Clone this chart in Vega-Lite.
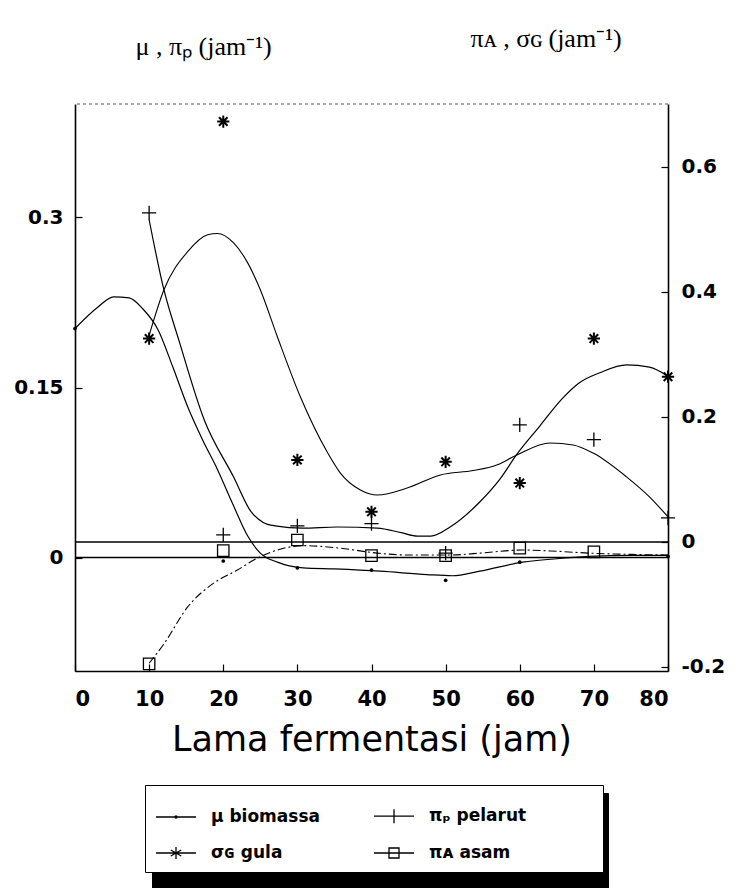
{
  "$schema": "https://vega.github.io/schema/vega-lite/v6.json",
  "width": 593,
  "height": 567,
  "autosize": {"type": "none"},
  "padding": {"left": 75, "top": 104, "right": 71, "bottom": 217},
  "background": "white",
  "config": {
    "view": {"stroke": null},
    "axis": {
      "grid": false,
      "domainColor": "black",
      "domainWidth": 1.6,
      "tickColor": "black",
      "tickWidth": 1.2,
      "tickSize": -7,
      "labelColor": "black",
      "titleColor": "black",
      "labelFont": "DejaVu Sans",
      "labelFontWeight": "bold",
      "labelFontSize": 20
    }
  },
  "datasets": {
    "curves": [
      {"s": "μ  biomassa", "x": 0, "v": 0.202},
      {"s": "μ  biomassa", "x": 3.1, "v": 0.221},
      {"s": "μ  biomassa", "x": 5.2, "v": 0.23},
      {"s": "μ  biomassa", "x": 7.3, "v": 0.229},
      {"s": "μ  biomassa", "x": 9.2, "v": 0.219},
      {"s": "μ  biomassa", "x": 11.2, "v": 0.201},
      {"s": "μ  biomassa", "x": 13.2, "v": 0.168},
      {"s": "μ  biomassa", "x": 15.2, "v": 0.133},
      {"s": "μ  biomassa", "x": 17.2, "v": 0.104},
      {"s": "μ  biomassa", "x": 19.2, "v": 0.078},
      {"s": "μ  biomassa", "x": 21.3, "v": 0.047},
      {"s": "μ  biomassa", "x": 23.3, "v": 0.019},
      {"s": "μ  biomassa", "x": 25, "v": 0.004},
      {"s": "μ  biomassa", "x": 27.3, "v": -0.004},
      {"s": "μ  biomassa", "x": 30.8, "v": -0.009},
      {"s": "μ  biomassa", "x": 35, "v": -0.01},
      {"s": "μ  biomassa", "x": 41.2, "v": -0.012},
      {"s": "μ  biomassa", "x": 47.5, "v": -0.015},
      {"s": "μ  biomassa", "x": 50.9, "v": -0.016},
      {"s": "μ  biomassa", "x": 54.6, "v": -0.012},
      {"s": "μ  biomassa", "x": 60.4, "v": -0.004},
      {"s": "μ  biomassa", "x": 65, "v": -0.001},
      {"s": "μ  biomassa", "x": 69.4, "v": 0.001},
      {"s": "μ  biomassa", "x": 75, "v": 0.002},
      {"s": "μ  biomassa", "x": 80, "v": 0.002},
      {"s": "πₚ pelarut", "x": 10, "v": 0.298},
      {"s": "πₚ pelarut", "x": 12, "v": 0.236},
      {"s": "πₚ pelarut", "x": 14, "v": 0.192},
      {"s": "πₚ pelarut", "x": 17.4, "v": 0.122},
      {"s": "πₚ pelarut", "x": 21.4, "v": 0.071},
      {"s": "πₚ pelarut", "x": 23.7, "v": 0.041},
      {"s": "πₚ pelarut", "x": 25.4, "v": 0.031},
      {"s": "πₚ pelarut", "x": 27, "v": 0.028},
      {"s": "πₚ pelarut", "x": 30.7, "v": 0.026},
      {"s": "πₚ pelarut", "x": 35.4, "v": 0.027},
      {"s": "πₚ pelarut", "x": 40.8, "v": 0.026},
      {"s": "πₚ pelarut", "x": 44, "v": 0.022},
      {"s": "πₚ pelarut", "x": 46.2, "v": 0.019},
      {"s": "πₚ pelarut", "x": 48, "v": 0.019},
      {"s": "πₚ pelarut", "x": 50.6, "v": 0.027},
      {"s": "πₚ pelarut", "x": 54.6, "v": 0.049},
      {"s": "πₚ pelarut", "x": 57.3, "v": 0.069},
      {"s": "πₚ pelarut", "x": 59.6, "v": 0.091},
      {"s": "πₚ pelarut", "x": 62.7, "v": 0.116},
      {"s": "πₚ pelarut", "x": 65.7, "v": 0.14},
      {"s": "πₚ pelarut", "x": 68, "v": 0.154},
      {"s": "πₚ pelarut", "x": 70.8, "v": 0.163},
      {"s": "πₚ pelarut", "x": 74.4, "v": 0.17},
      {"s": "πₚ pelarut", "x": 77.5, "v": 0.168},
      {"s": "πₚ pelarut", "x": 80, "v": 0.16},
      {"s": "σɢ gula", "x": 10, "v": 0.33},
      {"s": "σɢ gula", "x": 12, "v": 0.403},
      {"s": "σɢ gula", "x": 15.2, "v": 0.464},
      {"s": "σɢ gula", "x": 17.9, "v": 0.491},
      {"s": "σɢ gula", "x": 19.2, "v": 0.493},
      {"s": "σɢ gula", "x": 21.4, "v": 0.478},
      {"s": "σɢ gula", "x": 23.3, "v": 0.446},
      {"s": "σɢ gula", "x": 25, "v": 0.403},
      {"s": "σɢ gula", "x": 27.3, "v": 0.328},
      {"s": "σɢ gula", "x": 30.4, "v": 0.232},
      {"s": "σɢ gula", "x": 34.1, "v": 0.142},
      {"s": "σɢ gula", "x": 35.8, "v": 0.11},
      {"s": "σɢ gula", "x": 38.5, "v": 0.083},
      {"s": "σɢ gula", "x": 40.8, "v": 0.075},
      {"s": "σɢ gula", "x": 44.8, "v": 0.086},
      {"s": "σɢ gula", "x": 49.3, "v": 0.107},
      {"s": "σɢ gula", "x": 53.7, "v": 0.114},
      {"s": "σɢ gula", "x": 56.9, "v": 0.123},
      {"s": "σɢ gula", "x": 59.6, "v": 0.139},
      {"s": "σɢ gula", "x": 64.1, "v": 0.158},
      {"s": "σɢ gula", "x": 67.2, "v": 0.155},
      {"s": "σɢ gula", "x": 69.9, "v": 0.142},
      {"s": "σɢ gula", "x": 74.4, "v": 0.104},
      {"s": "σɢ gula", "x": 77.5, "v": 0.072},
      {"s": "σɢ gula", "x": 80, "v": 0.04},
      {"s": "πᴀ asam", "x": 10, "v": -0.194},
      {"s": "πᴀ asam", "x": 12, "v": -0.163},
      {"s": "πᴀ asam", "x": 15.2, "v": -0.104},
      {"s": "πᴀ asam", "x": 18.7, "v": -0.066},
      {"s": "πᴀ asam", "x": 21.9, "v": -0.045},
      {"s": "πᴀ asam", "x": 24.6, "v": -0.026},
      {"s": "πᴀ asam", "x": 27.3, "v": -0.013},
      {"s": "πᴀ asam", "x": 30.8, "v": -0.006},
      {"s": "πᴀ asam", "x": 35.8, "v": -0.01},
      {"s": "πᴀ asam", "x": 40.8, "v": -0.018},
      {"s": "πᴀ asam", "x": 45, "v": -0.021},
      {"s": "πᴀ asam", "x": 50.7, "v": -0.021},
      {"s": "πᴀ asam", "x": 54.6, "v": -0.018},
      {"s": "πᴀ asam", "x": 60.4, "v": -0.013},
      {"s": "πᴀ asam", "x": 65, "v": -0.015},
      {"s": "πᴀ asam", "x": 69.4, "v": -0.018},
      {"s": "πᴀ asam", "x": 75, "v": -0.02},
      {"s": "πᴀ asam", "x": 80, "v": -0.021}
    ],
    "pts": [
      {"s": "μ  biomassa", "x": 0, "v": 0.202},
      {"s": "μ  biomassa", "x": 20, "v": -0.003},
      {"s": "μ  biomassa", "x": 30, "v": -0.009},
      {"s": "μ  biomassa", "x": 40, "v": -0.011},
      {"s": "μ  biomassa", "x": 50, "v": -0.02},
      {"s": "μ  biomassa", "x": 60, "v": -0.004},
      {"s": "μ  biomassa", "x": 80, "v": 0.001},
      {"s": "πₚ pelarut", "x": 10, "v": 0.304},
      {"s": "πₚ pelarut", "x": 20, "v": 0.02},
      {"s": "πₚ pelarut", "x": 30, "v": 0.028},
      {"s": "πₚ pelarut", "x": 40, "v": 0.03},
      {"s": "πₚ pelarut", "x": 50, "v": 0.004},
      {"s": "πₚ pelarut", "x": 60, "v": 0.117},
      {"s": "πₚ pelarut", "x": 70, "v": 0.104},
      {"s": "πₚ pelarut", "x": 80, "v": 0.035},
      {"s": "σɢ gula", "x": 10, "v": 0.325},
      {"s": "σɢ gula", "x": 20, "v": 0.672},
      {"s": "σɢ gula", "x": 30, "v": 0.131},
      {"s": "σɢ gula", "x": 40, "v": 0.048},
      {"s": "σɢ gula", "x": 50, "v": 0.128},
      {"s": "σɢ gula", "x": 60, "v": 0.094},
      {"s": "σɢ gula", "x": 70, "v": 0.325},
      {"s": "σɢ gula", "x": 80, "v": 0.264},
      {"s": "πᴀ asam", "x": 10, "v": -0.195},
      {"s": "πᴀ asam", "x": 20, "v": -0.014},
      {"s": "πᴀ asam", "x": 30, "v": 0.003},
      {"s": "πᴀ asam", "x": 40, "v": -0.022},
      {"s": "πᴀ asam", "x": 50, "v": -0.022},
      {"s": "πᴀ asam", "x": 60, "v": -0.01},
      {"s": "πᴀ asam", "x": 70, "v": -0.016}
    ]
  },
  "layer": [
    {
      "layer": [
        {
          "data": {"name": "curves"},
          "transform": [{"filter": {"field": "s", "oneOf": ["μ  biomassa", "πₚ pelarut"]}}],
          "mark": {"type": "line", "interpolate": "monotone", "color": "black", "strokeWidth": 1.2},
          "encoding": {
            "x": {
              "field": "x", "type": "quantitative",
              "scale": {"domain": [0, 80], "nice": false},
              "axis": {
                "values": [0, 10, 20, 30, 40, 50, 60, 70, 80],
                "labelPadding": 24,
                "labelFontSize": 21,
                "title": "Lama fermentasi (jam)",
                "titleFont": "DejaVu Sans",
                "titleFontSize": 35,
                "titleFontWeight": "normal",
                "titleBaseline": "top",
                "titleY": 51
              }
            },
            "y": {
              "field": "v", "type": "quantitative",
              "scale": {"domain": [-0.1, 0.4], "nice": false, "zero": false},
              "axis": {
                "orient": "left",
                "values": [0, 0.15, 0.3],
                "labelExpr": "datum.value + ''",
                "labelPadding": 19,
                "title": "μ ,  πₚ (jam⁻¹)",
                "titleAngle": 0,
                "titleX": 60,
                "titleY": -50,
                "titleAlign": "left",
                "titleBaseline": "alphabetic",
                "titleFont": "Liberation Serif",
                "titleFontSize": 26,
                "titleFontWeight": "normal"
              }
            },
            "detail": {"field": "s"}
          }
        },
        {
          "data": {"values": [{"v": 0}]},
          "mark": {"type": "rule", "color": "black", "strokeWidth": 1.5},
          "encoding": {"y": {"field": "v", "type": "quantitative"}}
        },
        {
          "data": {"values": [{"v": 0.4}]},
          "mark": {"type": "rule", "color": "#555", "strokeWidth": 1, "strokeDash": [3, 3]},
          "encoding": {"y": {"field": "v", "type": "quantitative"}}
        },
        {
          "data": {"name": "pts"},
          "transform": [{"filter": {"field": "s", "equal": "μ  biomassa"}}],
          "mark": {"type": "point", "shape": "circle", "filled": true, "color": "black", "size": 14, "opacity": 1},
          "encoding": {
            "x": {"field": "x", "type": "quantitative"},
            "y": {"field": "v", "type": "quantitative"}
          }
        },
        {
          "data": {"name": "pts"},
          "transform": [{"filter": {"field": "s", "equal": "πₚ pelarut"}}],
          "mark": {"type": "point", "shape": "M-1,0H1M0,-1V1", "filled": false, "color": "black", "size": 200, "strokeWidth": 1.3, "opacity": 1},
          "encoding": {
            "x": {"field": "x", "type": "quantitative"},
            "y": {"field": "v", "type": "quantitative"}
          }
        },
        {
          "data": {"name": "pts"},
          "mark": {"type": "point", "filled": false, "size": 1600, "opacity": 0},
          "encoding": {
            "x": {"field": "x", "type": "quantitative"},
            "y": {"field": "v", "type": "quantitative"},
            "color": {
              "field": "s", "type": "nominal",
              "scale": {
                "domain": ["μ  biomassa ", "σɢ gula ", "πₚ pelarut ", "πᴀ asam "],
                "range": ["black", "black", "black", "black"]
              },
              "legend": {
                "title": null,
                "orient": "none",
                "legendX": 77,
                "legendY": 689,
                "columns": 2,
                "padding": 10,
                "rowPadding": -9,
                "columnPadding": 322,
                "strokeColor": "black",
                "fillColor": "black",
                "symbolType": "square",
                "symbolSize": 1600,
                "symbolStrokeColor": "black",
                "symbolFillColor": "black",
                "symbolOpacity": 1,
                "labelFontSize": 17,
                "labelOffset": 14,
                "labelExpr": "''"
              }
            }
          }
        },
        {
          "data": {"name": "pts"},
          "mark": {"type": "point", "filled": false, "color": "black", "size": 1600, "opacity": 0},
          "encoding": {
            "x": {"field": "x", "type": "quantitative"},
            "y": {"field": "v", "type": "quantitative"},
            "shape": {
              "field": "s", "type": "nominal",
              "scale": {
                "domain": ["μ  biomassa", "σɢ gula", "πₚ pelarut", "πᴀ asam"],
                "range": [
                  "M-1,0H1M-0.05,0A0.05,0.05,0,1,1,0.05,0A0.05,0.05,0,1,1,-0.05,0",
                  "M-1,0H1M0,-0.3V0.3M-0.26,-0.15L0.26,0.15M-0.26,0.15L0.26,-0.15",
                  "M-1,0H1M0,-0.35V0.35",
                  "M-1,0H-0.25M0.25,0H1M-0.25,-0.25H0.25V0.25H-0.25ZM-0.25,0H0.25"
                ]
              },
              "legend": {
                "title": null,
                "orient": "none",
                "legendX": 70,
                "legendY": 681,
                "columns": 2,
                "padding": 10,
                "rowPadding": 6,
                "columnPadding": 45,
                "strokeColor": "black",
                "fillColor": "white",
                "symbolSize": 1600,
                "symbolStrokeWidth": 1.3,
                "symbolStrokeColor": "black",
                "symbolFillColor": "transparent",
                "symbolOpacity": 1,
                "labelFont": "DejaVu Sans",
                "labelFontWeight": "bold",
                "labelFontSize": 17,
                "labelColor": "black",
                "labelOffset": 14,
                "labelLimit": 300,
                "labelExpr": "indexof(datum.label, 'π') == 0 ? datum.label + '\u2800\u2800\u2800\u2800\u2800' : datum.label"
              }
            }
          }
        }
      ]
    },
    {
      "layer": [
        {
          "data": {"name": "curves"},
          "transform": [{"filter": {"field": "s", "equal": "σɢ gula"}}],
          "mark": {"type": "line", "interpolate": "monotone", "color": "black", "strokeWidth": 1.1},
          "encoding": {
            "x": {"field": "x", "type": "quantitative"},
            "y": {
              "field": "v", "type": "quantitative",
              "scale": {"domain": [-0.2064, 0.7], "nice": false, "zero": false},
              "axis": {
                "orient": "right",
                "values": [-0.2, 0, 0.2, 0.4, 0.6],
                "labelExpr": "datum.value + ''",
                "labelPadding": 20,
                "title": "πᴀ  ,  σɢ  (jam⁻¹)",
                "titleAngle": 0,
                "titleX": -198,
                "titleY": -58,
                "titleAlign": "left",
                "titleBaseline": "alphabetic",
                "titleFont": "Liberation Serif",
                "titleFontSize": 26,
                "titleFontWeight": "normal"
              }
            }
          }
        },
        {
          "data": {"name": "curves"},
          "transform": [{"filter": {"field": "s", "equal": "πᴀ asam"}}],
          "mark": {"type": "line", "interpolate": "monotone", "color": "black", "strokeWidth": 1.1, "strokeDash": [8, 3, 2, 3]},
          "encoding": {
            "x": {"field": "x", "type": "quantitative"},
            "y": {"field": "v", "type": "quantitative"}
          }
        },
        {
          "data": {"values": [{"v": 0}]},
          "mark": {"type": "rule", "color": "black", "strokeWidth": 1.5},
          "encoding": {"y": {"field": "v", "type": "quantitative"}}
        },
        {
          "data": {"name": "pts"},
          "transform": [{"filter": {"field": "s", "equal": "σɢ gula"}}],
          "mark": {"type": "point", "shape": "M-1,0H1M0,-1V1M-0.7,-0.7L0.7,0.7M-0.7,0.7L0.7,-0.7", "filled": false, "color": "black", "size": 150, "strokeWidth": 2, "opacity": 1},
          "encoding": {
            "x": {"field": "x", "type": "quantitative"},
            "y": {"field": "v", "type": "quantitative"}
          }
        },
        {
          "data": {"name": "pts"},
          "transform": [{"filter": {"field": "s", "equal": "πᴀ asam"}}],
          "mark": {"type": "point", "shape": "square", "filled": false, "color": "black", "size": 130, "strokeWidth": 1.3, "opacity": 1},
          "encoding": {
            "x": {"field": "x", "type": "quantitative"},
            "y": {"field": "v", "type": "quantitative"}
          }
        }
      ]
    }
  ],
  "resolve": {"scale": {"y": "independent"}}
}
